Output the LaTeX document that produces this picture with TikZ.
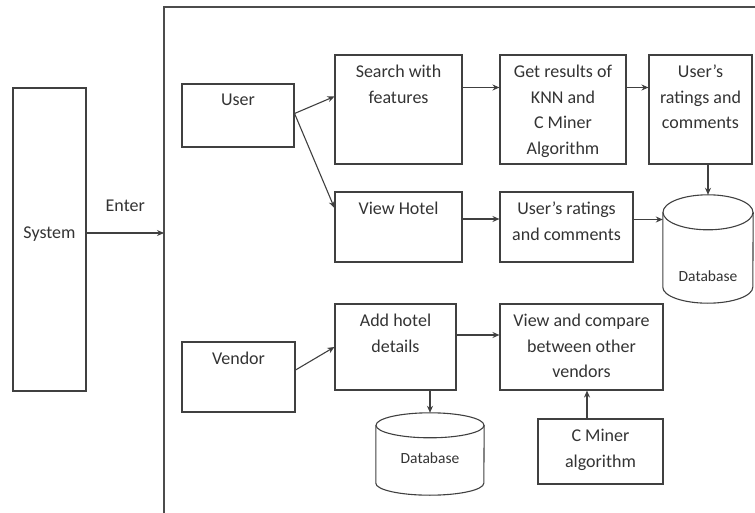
\documentclass[tikz,border=0pt]{standalone}
\usepackage{fontspec}
\setmainfont{Carlito}
\usepackage{tikz}
\usetikzlibrary{shapes.geometric, arrows.meta, calc, positioning, fit}

\begin{document}
\begin{tikzpicture}[arrow/.style = {draw=black!75, line width=1.1pt, -{Stealth[length=7pt,width=6pt]}}, x=1pt, y=-1pt]
		\tikzset{box/.style={draw=black!75, line width=1.1pt, rectangle, inner sep=0pt}}
		\tikzset{boxtext/.style={anchor=north, yshift=-10.5pt, inner sep=0pt, align=center, text=black!80, font=\fontsize{18}{25.5}\selectfont}}
		\tikzset{db/.style={rectangle, inner sep=0pt}}
		\tikzset{dbline/.style={draw=black!75, line width=1.1pt}}
		\tikzset{dbtext/.style={anchor=center, inner sep=0pt, text=black!80, font=\fontsize{15.5}{18}\selectfont}}

		\useasboundingbox (0,0) rectangle (755,513);

		% Frame
		\draw[draw=black!70, line width=1.1pt] (164,513) -- (164,7) -- (755,7);
		\coordinate (entry) at (164,233);

		% System
		\node[fit={(13,88) (86,391)}, box, text=black!80, font=\fontsize{18}{25.5}\selectfont] (system) {System};

		% User side
		\node[fit={(182,84) (294,147)}, box, label={[boxtext]north:User}] (user) {};

		\node[fit={(335,55) (462,164)}, box, label={[boxtext]north:Search with\\features}] (search) {};

		\node[fit={(500,55) (626,164)}, box, label={[boxtext]north:Get results of\\KNN and\\C Miner\\Algorithm}] (results) {};

		\node[fit={(649,55) (752,164)}, box, label={[boxtext]north:User’s\\ratings and\\comments}] (ratingsA) {};

		\node[fit={(335,192) (462,262)}, box, label={[boxtext]north:View Hotel}] (view) {};

		\node[fit={(500,192) (633,262)}, box, label={[boxtext]north:User’s ratings\\and comments}] (ratingsB) {};

		% Vendor side
		\node[fit={(182,342) (295,412)}, box, label={[boxtext]north:Vendor}] (vendor) {};

		\node[fit={(335,304) (456,390)}, box, label={[boxtext]north:Add hotel\\details}] (addhotel) {};

		\node[fit={(500,304) (663,390)}, box, label={[boxtext]north:View and compare\\between other\\vendors}] (compare) {};

		\node[fit={(538,419) (663,484)}, box, label={[boxtext]north:C Miner\\algorithm}] (cminer) {};

		% Databases
		\node[fit={(663,195) (753,303)}, db, label={[dbtext, yshift=-27pt]center:Database}] (dbA) {};
		\draw[dbline] ([yshift=-17.5pt]dbA.north) ellipse [x radius=45pt, y radius=17.5pt];
		\draw[dbline] ([yshift=-17.5pt]dbA.north west) -- ([yshift=16pt]dbA.south west) arc [start angle=180, end angle=360, x radius=45pt, y radius=16pt] -- ([yshift=-17.5pt]dbA.north east);

		\node[fit={(376,413) (484,495)}, db, label={[dbtext, yshift=-4pt]center:Database}] (dbB) {};
		\draw[dbline] ([yshift=-12.5pt]dbB.north) ellipse [x radius=54pt, y radius=12.5pt];
		\draw[dbline] ([yshift=-12.5pt]dbB.north west) -- ([yshift=12pt]dbB.south west) arc [start angle=180, end angle=360, x radius=54pt, y radius=12pt] -- ([yshift=-12.5pt]dbB.north east);

		% Arrows
		\draw [arrow] (system.east |- entry) -- (entry) node[midway, above=17pt, text=black!80, font=\fontsize{18}{25.5}\selectfont] {Enter};

		\draw [arrow] ([yshift=2pt]user.east) -- ([yshift=13pt]search.west);
		\draw [arrow] ([yshift=2pt]user.east) -- ([yshift=19pt]view.west);
		\draw [arrow] ([yshift=22pt]search.east) -- ([yshift=22pt]results.west);
		\draw [arrow] ([yshift=22pt]results.east) -- ([yshift=22pt]ratingsA.west);
		\draw [arrow] (ratingsA.south -| dbA.north) -- (dbA.north);
		\draw [arrow] ([yshift=8pt]view.east) -- ([yshift=8pt]ratingsB.west);
		\draw [arrow] ($(ratingsB.east)+(0,-7.5)$) -- ($(ratingsB.east -| dbA.west)+(0,-7.5)$);

		\draw [arrow] ([yshift=7pt]vendor.east) -- (addhotel.west);
		\draw [arrow] ([yshift=12pt]addhotel.east) -- ([yshift=12pt]compare.west);
		\draw [arrow] (addhotel.south -| dbB.north) -- (dbB.north);
		\draw [arrow] ([xshift=-13.5pt]cminer.north) -- ([xshift=5.5pt]compare.south);

	\end{tikzpicture}
\end{document}
